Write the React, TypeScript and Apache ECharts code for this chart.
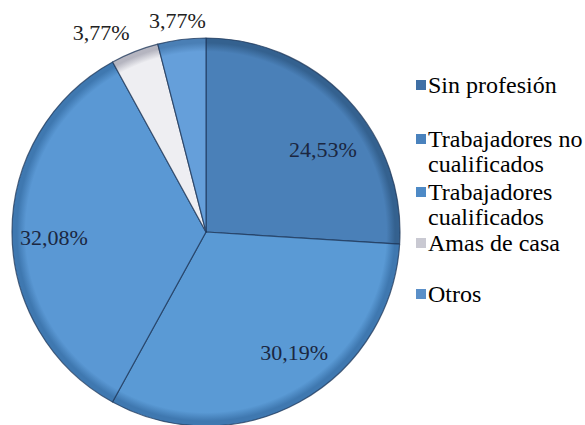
import React, { useEffect, useRef } from "react";
import * as echarts from "echarts";

const categories = [
  "Sin profesión",
  "Trabajadores no cualificados",
  "Trabajadores cualificados",
  "Amas de casa",
  "Otros",
];
const values = [24.53, 30.19, 32.08, 3.77, 3.77];
const legendTexts = [
  "Sin profesión",
  "Trabajadores no\ncualificados",
  "Trabajadores\ncualificados",
  "Amas de casa",
  "Otros",
];

const sliceColors = ["#4a80b8", "#5a9ad5", "#5a98d4", "#eeeef2", "#659fda"];
const rimColors = ["#34618f", "#3f78b0", "#3f78b0", "#b5b5c0", "#4a7fb5"];
const iconColors = ["#3f6fa5", "#4a82bd", "#4e8ac6", "#c9c9d2", "#5a8fc8"];
const labelOffsets = [[44, -14], [40, 33], [-52, 6], [-68, -107], [-16, -112]];
const legendCenters = [80, 134, 187, 238, 289];

const CX = 206;
const CY = 232;
const R = 194;
const FONT = "Liberation Serif";
const LH = 25;

function fmt(v: number) {
  return v.toFixed(2).replace(".", ",") + "%";
}

export default function App() {
  const ref = useRef<HTMLDivElement>(null);
  useEffect(() => {
    if (!ref.current) return;
    const chart = echarts.init(ref.current, undefined, { renderer: "svg" });
    const data = categories.map((name, i) => ({
      name,
      value: values[i],
      itemStyle: {
        color: {
          type: "radial",
          x: CX,
          y: CY,
          r: R,
          global: true,
          colorStops: [
            { offset: 0, color: sliceColors[i] },
            { offset: 0.93, color: sliceColors[i] },
            { offset: 0.975, color: rimColors[i] },
            { offset: 1, color: rimColors[i] },
          ],
        },
      },
      label: {
        offset: labelOffsets[i],
        color: i >= 3 ? "#222222" : "#1b2741",
      },
    }));
    const legends = categories.map((name, i) => {
      const twoLines = legendTexts[i].indexOf("\n") >= 0;
      return {
        orient: "vertical",
        left: 411,
        top: twoLines ? legendCenters[i] - LH / 2 - LH : legendCenters[i] - LH / 2,
        itemWidth: 10,
        itemHeight: 10,
        itemGap: 0,
        selectedMode: false,
        icon: "rect",
        data: [{ name, itemStyle: { color: iconColors[i], borderWidth: 0 } }],
        // a blank leading line keeps the icon level with the first line of text
        formatter: () => (twoLines ? " \n" + legendTexts[i] : legendTexts[i]),
        textStyle: {
          fontFamily: FONT,
          fontSize: 24,
          lineHeight: LH,
          color: "#000000",
          padding: [0, 0, 0, -3],
        },
      };
    });
    chart.setOption({
      animation: false,
      backgroundColor: "#ffffff",
      legend: legends,
      series: [
        {
          type: "pie",
          center: [CX, CY],
          radius: [0, R],
          startAngle: 90,
          clockwise: true,
          avoidLabelOverlap: false,
          itemStyle: {
            borderColor: "rgba(30,55,90,0.75)",
            borderWidth: 1.2,
          },
          label: {
            show: true,
            position: "inside",
            fontFamily: FONT,
            fontSize: 22,
            formatter: (p: any) => fmt(p.value),
          },
          labelLine: { show: false },
          emphasis: { disabled: true },
          data,
        },
      ],
    });
    return () => chart.dispose();
  }, []);
  return (
    <div
      ref={ref}
      style={{ position: "fixed", left: 0, top: 0, width: 585, height: 425, background: "#fff" }}
    />
  );
}
